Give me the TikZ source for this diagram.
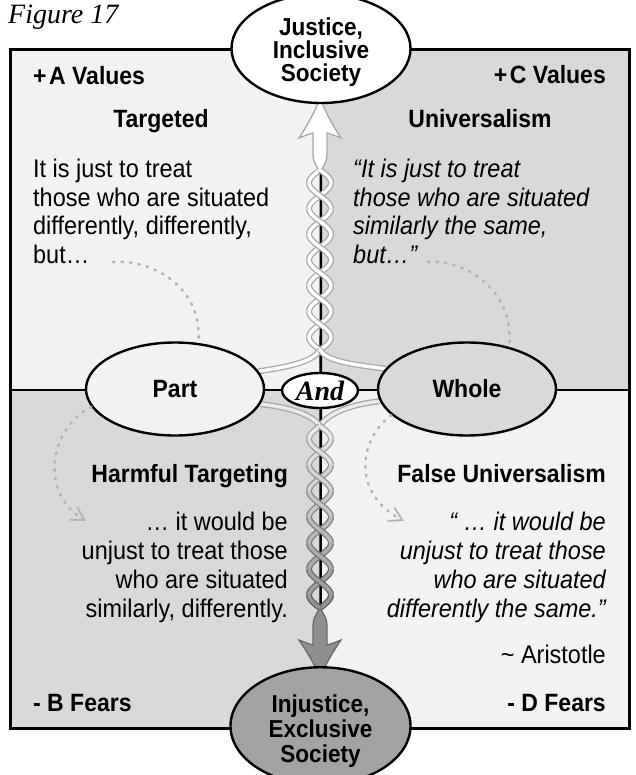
\documentclass[tikz,border=0pt]{standalone}
\usepackage{fontspec}
\setmainfont{Liberation Sans}[FakeStretch=0.92]
\newfontfamily\capserif{Liberation Serif}
\usetikzlibrary{shapes.geometric,arrows.meta}

\definecolor{paleq}{HTML}{F2F2F2}
\definecolor{darkq}{HTML}{D9D9D9}
\definecolor{injfill}{HTML}{A3A3A3}
\definecolor{dotgray}{HTML}{B3B3B3}
\definecolor{strandedge}{HTML}{A8A8A8}

\pgfdeclarelayer{back}
\pgfdeclarelayer{mid}
\pgfsetlayers{back,mid,main}

\tikzset{
  oval/.style={ellipse, draw=black, line width=2.4pt, inner sep=0pt},
  ovaltxt/.style={font=\fontsize{24.5}{#1}\selectfont\bfseries, align=center},
  headtxt/.style={font=\fontsize{25}{25}\selectfont\bfseries, inner sep=0pt},
  bodytxt/.style={font=\fontsize{25.5}{28}\selectfont, inner sep=0pt},
  quotetxt/.style={font=\fontsize{25.5}{28}\selectfont\itshape, inner sep=0pt},
  hint/.style={draw=dotgray, line width=2.6pt, dash pattern=on 1.5pt off 7pt, line cap=round},
  hinttip/.style={hint, -{Straight Barb[length=13pt,width=15pt,line width=1.8pt]}},
  strand/.style={line width=1.3pt, double distance=3.4pt},
  rule/.style={line width=2.6pt, draw=black}
}

\begin{document}
\begin{tikzpicture}[x=1pt,y=-1pt]
\useasboundingbox (0,0) rectangle (636,775);

% quadrants and frame
\begin{pgfonlayer}{back}
  \fill[white] (0,0) rectangle (636,775);
  \fill[paleq] (10,50) rectangle (320,390);
  \fill[darkq] (320,50) rectangle (629,390);
  \fill[darkq] (10,390) rectangle (320,728);
  \fill[paleq] (320,390) rectangle (629,728);
  \draw[line width=3pt] (10,50) rectangle (629,728);
\end{pgfonlayer}

% ovals (the strut on the first line lowers the text block a little)
\node[oval, ovaltxt=23, fill=white, minimum width=179, minimum height=93] (just) at (321,48.5)
  {\rule{0pt}{26pt}Justice,\\Inclusive\\Society};
\node[oval, ovaltxt=25, fill=injfill, minimum width=180, minimum height=96] (injust) at (320.5,726)
  {\rule{0pt}{28pt}Injustice,\\Exclusive\\Society};
\node[oval, fill=paleq, minimum width=178, minimum height=93] (part) at (175,389)
  {\fontsize{25}{25}\selectfont\bfseries Part};
\node[oval, fill=darkq, minimum width=178, minimum height=93] (whole) at (467,389)
  {\fontsize{25}{25}\selectfont\bfseries Whole};
\node[oval, fill=white, minimum width=76, minimum height=35] (and) at (320,390.5)
  {\capserif\bfseries\itshape\fontsize{28}{28}\selectfont And};

\coordinate (wl) at (10,390);
\coordinate (wr) at (629,390);
\coordinate (splitU) at (320,350);
\coordinate (joinL) at (320,426);

\begin{pgfonlayer}{mid}
  % dividing rules
  \draw[rule] (wl) -- (wr);
  \draw[rule] (just.south) -- (injust.north);

  % upward arrow
  \filldraw[fill=white, draw=strandedge, line width=1.3pt]
    (320,172) .. controls (317,167) and (313,162) .. (313,155) -- (313,133)
    .. controls (309,134) and (304,136) .. (299,138)
    .. controls (307,126) and (316,110) .. (320,97)
    .. controls (324,110) and (333,126) .. (341,138)
    .. controls (336,136) and (331,134) .. (327,133) -- (327,155)
    .. controls (327,162) and (323,167) .. (320,172) -- cycle;

  % downward arrow
  \filldraw[fill=black!44, draw=black!58, line width=1.3pt]
    (320,608) .. controls (323,613) and (327,618) .. (327,625) -- (327,645)
    .. controls (331,644) and (336,642) .. (341,640)
    .. controls (333,652) and (324,666) .. (320,679)
    .. controls (316,666) and (307,652) .. (299,640)
    .. controls (304,642) and (309,644) .. (313,645) -- (313,625)
    .. controls (313,618) and (317,613) .. (320,608) -- cycle;

  % upper twist
  \pgfmathsetmacro\hU{180/7}
  \foreach \k in {0,...,7}{
    \pgfmathsetmacro\yc{170+\k*\hU}
    \pgfmathsetmacro\ta{\k==0 ? 0 : -\hU/2}
    \pgfmathsetmacro\tb{\k==7 ? 0 : \hU/2}
    \foreach \s in {-1,1}
      \draw[strand, draw=strandedge, double=white]
        plot[domain=\ta:\tb, samples=11, smooth, variable=\t]
        ({320+(\s)*11*sin(180*\t/\hU)}, {\yc+\t});
  }
  \draw[strand, draw=strandedge, double=white]
    (splitU) .. controls (314,360) and (296,366) .. (part.12);
  \draw[strand, draw=strandedge, double=white]
    (splitU) .. controls (326,360) and (346,364) .. (whole.166);

  % lower twist
  \draw[strand, draw=black!35, double=black!8]
    (whole.188) .. controls (346,405) and (327,415) .. (joinL);
  \draw[strand, draw=black!35, double=black!8]
    (part.-10) .. controls (295,408) and (313,416) .. (joinL);
  \pgfmathsetmacro\hL{182/7}
  \foreach \k in {0,...,7}{
    \pgfmathsetmacro\yc{426+\k*\hL}
    \pgfmathsetmacro\ta{\k==0 ? 0 : -\hL/2}
    \pgfmathsetmacro\tb{\k==7 ? 0 : \hL/2}
    \pgfmathtruncatemacro\ol{35+28*\k/7}
    \pgfmathtruncatemacro\il{8+34*\k/7}
    \foreach \s in {-1,1}
      \draw[strand, draw=black!\ol, double=black!\il]
        plot[domain=\ta:\tb, samples=11, smooth, variable=\t]
        ({320+(\s)*11*sin(180*\t/\hL)}, {\yc+\t});
  }
\end{pgfonlayer}

% caption
\node[anchor=base west, inner sep=0pt, font=\capserif\itshape\fontsize{28}{28}\selectfont]
  (fig) at (8,24) {Figure 17};

% headings
\node[headtxt, anchor=base west] (aval) at (33,85) {+\kern2.5pt A Values};
\node[headtxt, anchor=base east] (cval) at (606,84) {+\kern2.5pt C Values};
\node[headtxt, anchor=base] (targ) at (161,128) {Targeted};
\node[headtxt, anchor=base] (univ) at (480,128) {Universalism};
\node[headtxt, anchor=base east] (harm) at (288,482) {Harmful Targeting};
\node[headtxt, anchor=base east] (falseu) at (606,482) {False Universalism};
\node[headtxt, anchor=base west] (bfear) at (33,711) {- B Fears};
\node[headtxt, anchor=base east] (dfear) at (606,711) {- D Fears};
\node[bodytxt, anchor=base east] (aris) at (606,663) {\textasciitilde\ Aristotle};

% body lines
\foreach \ln [count=\i] in {{It is just to treat},{those who are situated},{differently, differently,},{but…}}
  \node[bodytxt, anchor=base west] (tl\i) at (33,{178+28.5*(\i-1)}) {\ln};
\foreach \ln [count=\i] in {{“It is just to treat},{those who are situated},{similarly the same,},{but…”}}
  \node[quotetxt, anchor=base west] (tr\i) at (353,{178+28.5*(\i-1)}) {\ln};
\foreach \ln [count=\i] in {{… it would be},{unjust to treat those},{who are situated},{similarly, differently.}}
  \node[bodytxt, anchor=base east] (bl\i) at (288,{530+29*(\i-1)}) {\ln};
\foreach \ln [count=\i] in {{“ … it would be},{unjust to treat those},{who are situated},{differently the same.”}}
  \node[quotetxt, anchor=base east] (br\i) at (606,{530+29*(\i-1)}) {\ln};

% dotted hints
\coordinate (hintTL) at (113,262);
\coordinate (hintTR) at (428,262);
\coordinate (hintBL) at (86,521);
\coordinate (hintBR) at (404,521);
\draw[hint] (hintTL) .. controls (150,259) and (203,285) .. (part.63);
\draw[hint] (hintTR) .. controls (465,259) and (515,290) .. (whole.45);
\draw[hinttip] (part.192) .. controls (50,428) and (38,492) .. (hintBL);
\draw[hinttip] (whole.199) .. controls (358,440) and (352,494) .. (hintBR);
\end{tikzpicture}
\end{document}
